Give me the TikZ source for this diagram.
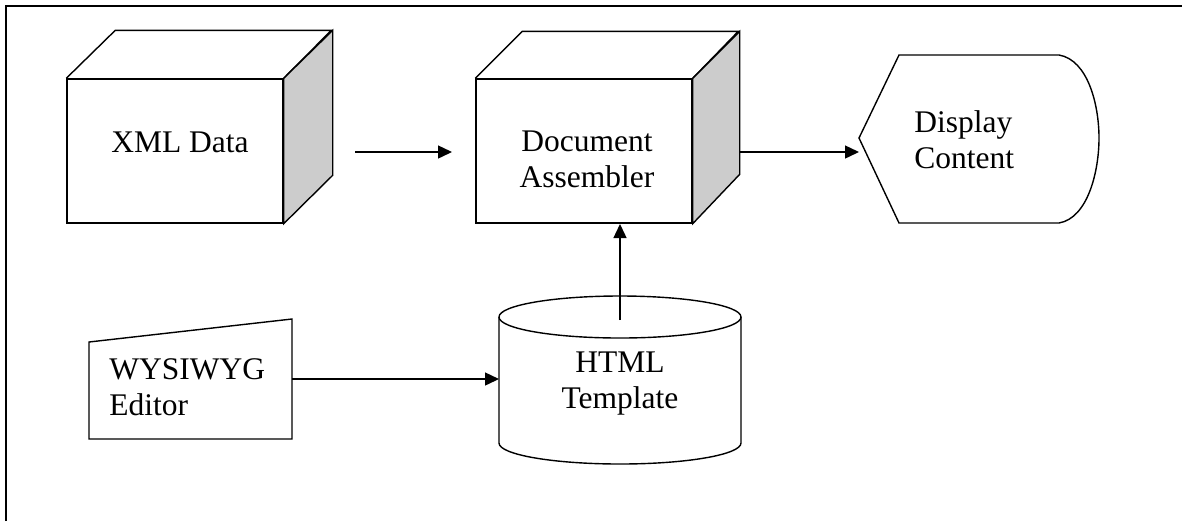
\documentclass[tikz,border=0pt]{standalone}
\usepackage{fontspec}
\setmainfont{Liberation Serif}
\usetikzlibrary{arrows.meta}
\begin{document}
\begin{tikzpicture}[x=0.5pt,y=-0.5pt,
  shp/.style={draw=black, line width=0.7pt, line join=miter},
  side/.style={shp, fill=gray!40},
  lbl/.style={inner sep=0pt, font={\fontsize{15.75pt}{18pt}\selectfont}},
  conn/.style={line width=0.7pt, -{Triangle[length=7pt,width=6.5pt]}},
  frame/.style={line width=1pt}]
\useasboundingbox (0,0) rectangle (1182,521);
% outer frame
\draw[frame] (6,521) -- (6,6) -- (1182,6);

% XML Data cube
\node[shp, minimum width=108pt, minimum height=72pt, inner sep=0pt] (xml) at (175,151) {};
\draw[shp] (xml.north west) -- ++(49,-48) -- ++(216,0) -- (xml.north east);
\draw[side] (xml.north east) -- ++(49,-48) -- ++(0,145) -- (xml.south east) -- cycle;
\node[lbl, anchor=base] (xmltext) at (180,152) {XML Data};

% Document Assembler cube
\node[shp, minimum width=108pt, minimum height=72pt, inner sep=0pt] (doc) at (584,151) {};
\draw[shp] (doc.north west) -- ++(47,-47) -- ++(216,0) -- (doc.north east);
\draw[side] (doc.north east) -- ++(47,-47) -- ++(0,143) -- (doc.south east) -- cycle;
\node[lbl, anchor=base, align=center] (doctext) at (587,187) {Document\\Assembler};

% Display Content
\draw[shp] (859,138) coordinate (dispL) -- (899,55) -- (1059,55)
  .. controls (1088,60) and (1099,105) .. (1099,138)
  .. controls (1099,171) and (1088,218) .. (1059,223) -- (899,223) -- cycle;
\node[lbl, anchor=base west, align=left] (disptext) at (914,168) {Display\\Content};

% HTML Template cylinder
\draw[shp] (499,317) -- (499,443)
  arc[start angle=180, end angle=360, x radius=60.5pt, y radius=10.5pt]
  -- (741,317)
  arc[start angle=0, end angle=180, x radius=60.5pt, y radius=10.5pt];
\draw[shp] (499,317) arc[start angle=180, end angle=360, x radius=60.5pt, y radius=10.5pt];
\node[lbl, anchor=base, align=center] (htmltext) at (620,408) {HTML\\Template};

% WYSIWYG Editor (manual input)
\draw[shp] (89,342) -- (292,319) -- (292,439) -- (89,439) -- cycle;
\node[lbl, anchor=base west, align=left] (wystext) at (109,415) {WYSIWYG\\Editor};

% connector end points
\coordinate (xmlOut) at (355,152);
\coordinate (docIn) at (452,152);
\coordinate (docOut) at (740,152);
\coordinate (dispIn) at (859,152);
\coordinate (htmlTop) at (620,320);
\coordinate (docBot) at (620,224);
\coordinate (wysOut) at (292,379);
\coordinate (htmlIn) at (499,379);

\draw[conn] (xmlOut) -- (docIn);
\draw[conn] (docOut) -- (dispIn);
\draw[conn] (htmlTop) -- (docBot);
\draw[conn] (wysOut) -- (htmlIn);
\end{tikzpicture}
\end{document}
